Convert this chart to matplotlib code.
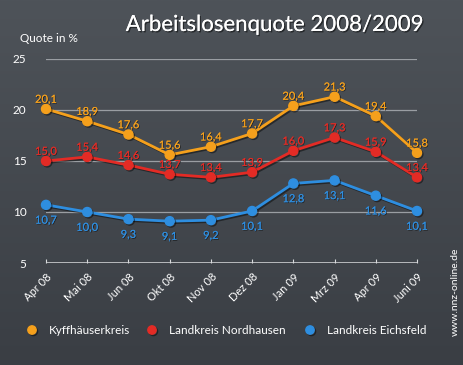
import matplotlib
matplotlib.use("Agg")
import matplotlib.pyplot as plt
import matplotlib.patheffects as pe
import numpy as np

months = ["Apr 08", "Mai 08", "Jun 08", "Okt 08", "Nov 08", "Dez 08",
          "Jan 09", "Mrz 09", "Apr 09", "Juni 09"]
kyff = [20.1, 18.9, 17.6, 15.6, 16.4, 17.7, 20.4, 21.3, 19.4, 15.8]
nordh = [15.0, 15.4, 14.6, 13.7, 13.4, 13.9, 16.0, 17.3, 15.9, 13.4]
eichs = [10.7, 10.0, 9.3, 9.1, 9.2, 10.1, 12.8, 13.1, 11.6, 10.1]
names = ["Kyffhäuserkreis", "Landkreis Nordhausen", "Landkreis Eichsfeld"]
colors = ["#f5a01c", "#e32b25", "#2e8ee0"]

plt.rcParams["font.family"] = ["Lato", "DejaVu Sans"]
fig = plt.figure(figsize=(4.64, 3.65), dpi=100)

# chalkboard background
bg = fig.add_axes([0, 0, 1, 1], zorder=-10)
grad = np.linspace(0, 1, 200)[:, None]
bg.imshow(grad, aspect="auto", extent=[0, 1, 0, 1],
          cmap=matplotlib.colors.LinearSegmentedColormap.from_list(
              "b", ["#3a3e44", "#4e5359"]), origin="lower")
bg.axis("off")

line_shadow = [pe.SimpleLineShadow(offset=(1, -1), shadow_color="black", alpha=0.45), pe.Normal()]
text_shadow = [pe.withSimplePatchShadow(offset=(1, -1), shadow_rgbFace="black", alpha=0.5), pe.Normal()]
small_shadow = [pe.withSimplePatchShadow(offset=(0.6, -0.6), shadow_rgbFace="black", alpha=0.5), pe.Normal()]

ax = fig.add_axes([46 / 464, 102 / 365, 371 / 464, 204 / 365])
ax.patch.set_alpha(0)
x = np.arange(len(months))
ax.set_xlim(0, len(months) - 1)
ax.set_ylim(5, 25)
for s in ax.spines.values():
    s.set_visible(False)
for yv in [10, 15, 20, 25]:
    ax.axhline(yv, color="#9a9ea3", lw=0.9, zorder=1)
ax.axhline(5, color="#d8dadc", lw=1.1, zorder=1)
ax.set_yticks([5, 10, 15, 20, 25])
ax.set_yticklabels(["5", "10", "15", "20", "25"], color="white", fontsize=8.5)
ax.tick_params(axis="y", length=0, pad=14)
ax.set_xticks(x)
ax.set_xticklabels(months, rotation=45, ha="right", rotation_mode="anchor",
                   color="white", fontsize=8)
ax.tick_params(axis="x", length=3, direction="in", color="#d8dadc", pad=6)

series = [kyff, nordh, eichs]
offsets = [7, 7, -11]
for vals, c, off in zip(series, colors, offsets):
    ax.plot(x, vals, color=c, lw=2, marker="o", ms=6.5, zorder=3,
            clip_on=False, path_effects=line_shadow)
    for xi, v in zip(x, vals):
        ax.annotate(f"{v:.1f}".replace(".", ","), (xi, v), xytext=(0, off),
                    textcoords="offset points", ha="center", va="center",
                    color=c, fontsize=8, zorder=4, path_effects=small_shadow)

fig.text(275 / 464, 1 - 25 / 365, "Arbeitslosenquote 2008/2009", ha="center",
         va="center", color="white", fontsize=16, path_effects=text_shadow)
fig.text(20 / 464, 1 - 38 / 365, "Quote in %", ha="left", va="center",
         color="white", fontsize=8.5)
fig.text(455 / 464, 1 - 292 / 365, "www.nnz-online.de", rotation=90,
         ha="center", va="center", color="white", fontsize=7.5)

legend_x = [32, 152, 310]
for lx, name, c in zip(legend_x, names, colors):
    fig.lines.append(plt.Line2D([lx / 464], [1 - 330 / 365], marker="o", ms=6,
                                color=c, transform=fig.transFigure,
                                path_effects=line_shadow))
    fig.text((lx + 17) / 464, 1 - 330 / 365, name, ha="left", va="center",
             color="white", fontsize=8.5)

fig.savefig("out.png", dpi=100)
